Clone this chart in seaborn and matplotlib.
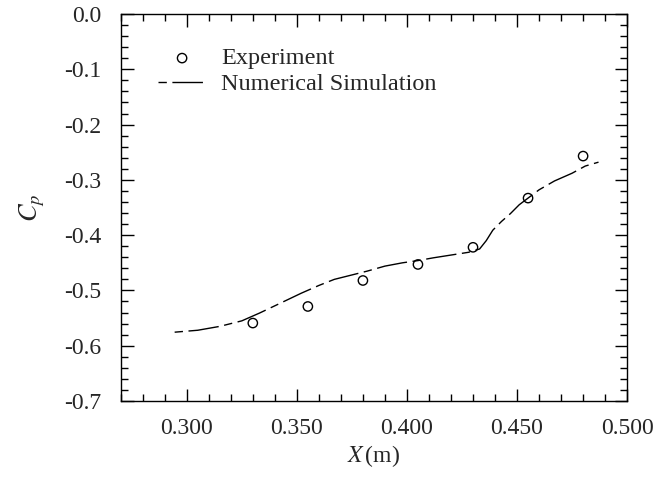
import numpy as np
import pandas as pd
import seaborn as sns
import matplotlib.pyplot as plt
from matplotlib.ticker import MultipleLocator, FormatStrFormatter

# experiment points
exp_x = [0.330, 0.355, 0.380, 0.405, 0.430, 0.455, 0.480]
exp_cp = [-0.559, -0.529, -0.482, -0.453, -0.422, -0.333, -0.257]

# numerical simulation curve
sim_x = [0.2945, 0.305, 0.315, 0.325, 0.333, 0.342, 0.352, 0.360, 0.367, 0.375,
         0.382, 0.390, 0.398, 0.405, 0.412, 0.420, 0.428, 0.433, 0.436, 0.439,
         0.443, 0.447, 0.451, 0.455, 0.460, 0.467, 0.475, 0.481, 0.487]
sim_cp = [-0.5755, -0.572, -0.565, -0.555, -0.541, -0.524, -0.505, -0.491, -0.480, -0.472,
          -0.465, -0.456, -0.450, -0.446, -0.441, -0.436, -0.431, -0.425, -0.410, -0.391,
          -0.375, -0.361, -0.345, -0.333, -0.318, -0.302, -0.288, -0.275, -0.268]

exp_df = pd.DataFrame({"x": exp_x, "cp": exp_cp})
sim_df = pd.DataFrame({"x": sim_x, "cp": sim_cp})

sns.set_style("ticks")
plt.rcParams["font.family"] = ["Liberation Serif", "DejaVu Serif"]
plt.rcParams["mathtext.fontset"] = "stix"

fig = plt.figure(figsize=(6.56, 4.82), dpi=100)
ax = fig.add_axes([0.184, 0.168, 0.772, 0.803])

sns.scatterplot(data=exp_df, x="x", y="cp", ax=ax, marker="o", s=45,
                facecolors="none", edgecolor="black", linewidth=1.0,
                label="Experiment", zorder=3)
sns.lineplot(data=sim_df, x="x", y="cp", ax=ax, color="black", linewidth=1.0,
             label="Numerical Simulation", sort=False)
ax.lines[-1].set_dashes((6, 4, 22, 4))

ax.set_xlim(0.27, 0.50)
ax.set_ylim(-0.7, 0.0)
ax.xaxis.set_major_locator(MultipleLocator(0.05))
ax.xaxis.set_minor_locator(MultipleLocator(0.01))
ax.yaxis.set_major_locator(MultipleLocator(0.1))
ax.yaxis.set_minor_locator(MultipleLocator(0.02))
ax.xaxis.set_major_formatter(FormatStrFormatter("%.3f"))
ax.yaxis.set_major_formatter(FormatStrFormatter("%.1f"))

ax.tick_params(which="both", direction="in", top=True, right=True,
               labelsize=17, color="black", width=1.0)
ax.tick_params(axis="x", which="major", pad=12)
ax.tick_params(axis="y", which="major", pad=14)
ax.tick_params(which="major", length=9)
ax.tick_params(which="minor", length=5)
for sp in ax.spines.values():
    sp.set_color("black")
    sp.set_linewidth(1.0)

ax.set_xlabel(r"$X\,$(m)", fontsize=17, labelpad=3)
ax.set_ylabel(r"$C_p$", fontsize=19, labelpad=12)

leg = ax.legend(loc="upper left", bbox_to_anchor=(0.03, 0.97), frameon=False,
                fontsize=17.5, handlelength=2.0, handletextpad=0.6, labelspacing=0.15)

fig.savefig("out.png", dpi=100)
